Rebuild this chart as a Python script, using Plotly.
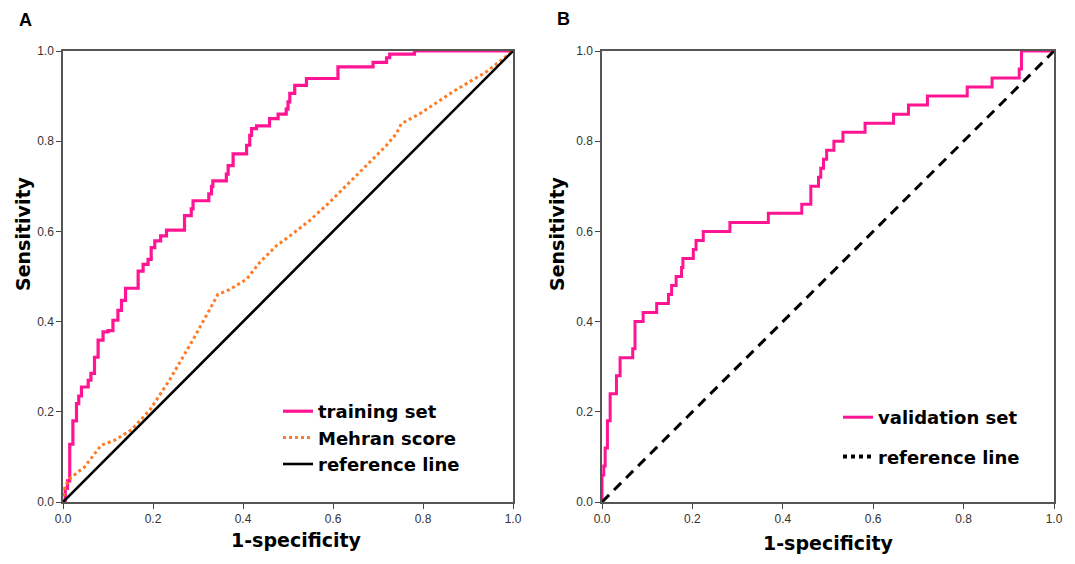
import plotly.graph_objects as go

# ---------------- data ----------------
tick_vals = [0.0, 0.2, 0.4, 0.6, 0.8, 1.0]
tick_text = ["0.0", "0.2", "0.4", "0.6", "0.8", "1.0"]

# Panel A: training set ROC (step corners)
train_fpr = [0, 0.005, 0.010, 0.015, 0.022, 0.030, 0.035, 0.041, 0.056, 0.062,
             0.070, 0.078, 0.089, 0.100, 0.111, 0.122, 0.130, 0.139, 0.167, 0.178,
             0.189, 0.196, 0.204, 0.217, 0.230, 0.270, 0.285, 0.289, 0.324, 0.330,
             0.333, 0.363, 0.367, 0.378, 0.408, 0.415, 0.419, 0.430, 0.459, 0.478,
             0.496, 0.500, 0.504, 0.515, 0.541, 0.611, 0.689, 0.719, 0.726, 0.781, 1.0]
train_tpr = [0, 0.03, 0.047, 0.128, 0.18, 0.218, 0.235, 0.255, 0.27, 0.285,
             0.321, 0.359, 0.377, 0.38, 0.403, 0.425, 0.447, 0.474, 0.512, 0.527,
             0.538, 0.564, 0.579, 0.59, 0.603, 0.635, 0.65, 0.668, 0.683, 0.70,
             0.712, 0.727, 0.746, 0.772, 0.791, 0.813, 0.828, 0.834, 0.85, 0.86,
             0.871, 0.887, 0.906, 0.924, 0.939, 0.965, 0.975, 0.985, 0.993, 1.0, 1.0]

# Panel A: Mehran score ROC
mehran_fpr = [0, 0.005, 0.015, 0.048, 0.085, 0.115, 0.152, 0.193, 0.237, 0.289,
              0.326, 0.344, 0.37, 0.408, 0.437, 0.474, 0.504, 0.548, 0.593, 0.63,
              0.644, 0.719, 0.741, 0.752, 0.793, 0.867, 0.941, 1.0]
mehran_tpr = [0, 0.035, 0.052, 0.078, 0.126, 0.137, 0.16, 0.204, 0.271, 0.36,
              0.427, 0.46, 0.471, 0.494, 0.531, 0.568, 0.59, 0.624, 0.665, 0.702,
              0.716, 0.791, 0.817, 0.839, 0.861, 0.91, 0.954, 1.0]

# Reference diagonal
ref_x = [0, 1]
ref_y = [0, 1]

# Panel B: validation set ROC (step corners)
val_fpr = [0, 0.0, 0.004, 0.007, 0.012, 0.018, 0.032, 0.040, 0.068, 0.073,
           0.091, 0.121, 0.147, 0.154, 0.164, 0.176, 0.179, 0.202, 0.208, 0.224,
           0.283, 0.368, 0.442, 0.462, 0.479, 0.484, 0.490, 0.497, 0.513, 0.533,
           0.582, 0.645, 0.678, 0.720, 0.808, 0.863, 0.923, 0.928, 1.0]
val_tpr = [0, 0.06, 0.08, 0.12, 0.18, 0.24, 0.28, 0.32, 0.34, 0.40,
           0.42, 0.44, 0.46, 0.48, 0.50, 0.52, 0.54, 0.56, 0.58, 0.60,
           0.62, 0.64, 0.66, 0.70, 0.72, 0.74, 0.76, 0.78, 0.80, 0.82,
           0.84, 0.86, 0.88, 0.90, 0.92, 0.94, 0.96, 1.0, 1.0]

# ---------------- style ----------------
OFF = 8                      # default page body margin
W, H = 1075 - 2 * OFF, 564 - 2 * OFF
PINK = "#FF1493"
ORANGE = "#FF7A22"
FONT = "Liberation Sans, Arial, sans-serif"
BFONT = "DejaVu Sans, Liberation Sans, sans-serif"

def px(x):
    return (x - OFF) / W

def py(y):
    return 1 - (y - OFF) / H

fig = go.Figure()

fig.add_trace(go.Scatter(x=train_fpr, y=train_tpr, mode="lines", name="training set",
                         line=dict(color=PINK, width=3.2, shape="hv"),
                         xaxis="x", yaxis="y", legend="legend"))
fig.add_trace(go.Scatter(x=mehran_fpr, y=mehran_tpr, mode="lines", name="Mehran score",
                         line=dict(color=ORANGE, width=3, dash="dot"),
                         xaxis="x", yaxis="y", legend="legend"))
fig.add_trace(go.Scatter(x=ref_x, y=ref_y, mode="lines", name="reference line",
                         line=dict(color="black", width=2.6),
                         xaxis="x", yaxis="y", legend="legend"))

fig.add_trace(go.Scatter(x=val_fpr, y=val_tpr, mode="lines", name="validation set",
                         line=dict(color=PINK, width=3, shape="hv"),
                         xaxis="x2", yaxis="y2", legend="legend2", legendgroup="v"))
fig.add_trace(go.Scatter(x=ref_x, y=ref_y, mode="lines", name="reference line",
                         line=dict(color="black", width=3, dash="10px,7px"),
                         xaxis="x2", yaxis="y2", showlegend=False))
fig.add_trace(go.Scatter(x=[None], y=[None], mode="lines", name="reference line",
                         line=dict(color="black", width=4, dash="4px,4px"),
                         xaxis="x2", yaxis="y2", legend="legend2", legendgroup="r"))

ydom = [py(502), py(51)]
axis_common = dict(range=[0, 1], tickvals=tick_vals, ticktext=tick_text,
                   ticks="outside", ticklen=5, tickwidth=1.3, tickcolor="#444",
                   showline=True, linecolor="#555", linewidth=1.5, mirror=True,
                   showgrid=False, zeroline=False, automargin=False,
                   tickfont=dict(family=FONT, size=12, color="#333"))

leg_font = dict(family=BFONT, size=18, color="black", weight="bold")
fig.update_layout(
    width=W, height=H,
    margin=dict(l=0, r=0, t=0, b=0, autoexpand=False),
    paper_bgcolor="white", plot_bgcolor="white",
    xaxis=dict(domain=[px(63), px(513)], anchor="y", **axis_common),
    yaxis=dict(domain=ydom, anchor="x", **axis_common),
    xaxis2=dict(domain=[px(602), px(1054)], anchor="y2", **axis_common),
    yaxis2=dict(domain=ydom, anchor="x2", **axis_common),
    legend=dict(x=px(278), y=py(393), xanchor="left", yanchor="top",
                bgcolor="rgba(0,0,0,0)", borderwidth=0, tracegroupgap=0,
                font=leg_font),
    legend2=dict(x=px(838), y=py(399), xanchor="left", yanchor="top",
                 bgcolor="rgba(0,0,0,0)", borderwidth=0, tracegroupgap=13,
                 traceorder="grouped", font=leg_font),
    showlegend=True,
)

ann_font = dict(family=BFONT, size=19, color="black", weight="bold")
letter_font = dict(family=FONT, size=18, color="black", weight="bold")

def label(x, y, text, font, angle=0):
    fig.add_annotation(x=px(x), y=py(y), xref="paper", yref="paper", text=text,
                       showarrow=False, xanchor="center", yanchor="middle",
                       textangle=angle, font=font)

label(25, 20, "A", letter_font)
label(563, 19, "B", letter_font)
label(296, 540, "1-specificity", ann_font)
label(828, 543, "1-specificity", ann_font)
label(23, 234, "Sensitivity", ann_font, -90)
label(557, 234, "Sensitivity", ann_font, -90)

fig.write_html("out.html")
